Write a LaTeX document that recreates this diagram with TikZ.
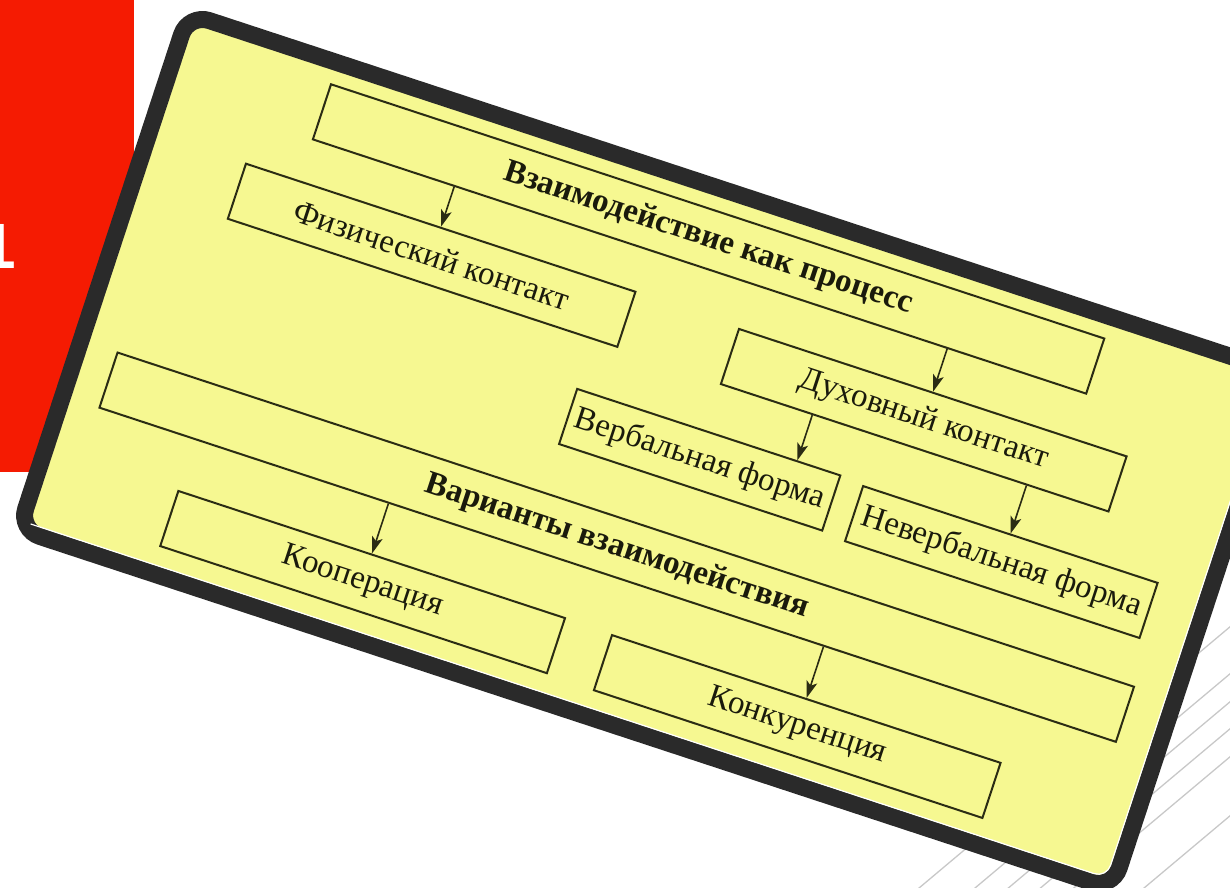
\documentclass[tikz,border=0pt]{standalone}
\usepackage{fontspec}
\setmainfont{Liberation Serif}
\newfontfamily\slidesans{Liberation Sans}
\usetikzlibrary{arrows.meta,calc}
\definecolor{panelyellow}{HTML}{F6F891}
\definecolor{paneldark}{HTML}{2A2A2A}
\definecolor{slidered}{HTML}{F51B02}
\definecolor{boxline}{HTML}{2B2C14}
\definecolor{boxtext}{HTML}{1A1A0C}
\definecolor{hatch}{HTML}{C8C8C8}
\begin{document}
\begin{tikzpicture}[x=1pt,y=1pt,
  diabox/.style={draw=boxline, line width=2pt, minimum height=58pt, inner sep=0pt,
    transform shape, text=boxtext, font=\fontsize{33}{36}\selectfont},
  titlebox/.style={diabox, font=\fontsize{33}{36}\selectfont\bfseries},
  arr/.style={draw=boxline, line width=1.6pt, -{Stealth[length=17pt,width=11pt,inset=4pt]}},
  hatchline/.style={draw=hatch, line width=1.3pt},
]
\useasboundingbox (0,0) rectangle (1230,-887);
\clip (0,0) rectangle (1230,-887);
% background hatch lines (bottom right)
\foreach \c in {1660,1707,1735,1762,1790,1849} {
  \pgfmathsetmacro{\xa}{(\c-900)/0.84}
  \pgfmathsetmacro{\yb}{\c-1041.6}
  \draw[hatchline] (\xa,-900) -- (1240,-\yb);
}
% red side bar
\fill[slidered] (0,0) rectangle (134,-472);
\node[anchor=base west, inner sep=0pt, text=white,
  font=\slidesans\bfseries\fontsize{64}{64}\selectfont] (num) at (-19.5,-268) {1};
% rotated panel
\begin{scope}[shift={(183,-3)}, rotate=-18.2]
  \filldraw[fill=panelyellow, draw=paneldark, line width=17pt, rounded corners=22pt]
    (8.5,-8.5) rectangle (1159.5,-551.5);
  \draw[white, line width=1.2pt, rounded corners=13pt]
    (18,-542.5) -- (1150.5,-542.5) -- (1150.5,-18);
  \node[titlebox, minimum width=814pt] (A) at (573,-60) {Взаимодействие как процесс};
  \node[diabox, minimum width=410pt] (B) at (315,-162) {Физический контакт};
  \node[diabox, minimum width=408pt] (C) at (834,-165) {Духовный контакт};
  \node[diabox, minimum width=277pt] (D) at (633.5,-272.5) {Вербальная форма};
  \node[diabox, minimum width=310pt] (E) at (952,-275.5) {Невербальная форма};
  \node[titlebox, minimum width=1070pt] (F) at (582,-381.5) {Варианты взаимодействия};
  \node[diabox, minimum width=407pt] (G) at (351.5,-494) {Кооперация};
  \node[diabox, minimum width=409pt] (H) at (809.5,-495.5) {Конкуренция};
  \draw[arr] ($(A.south west)!(B.north)!(A.south east)$) -- (B.north);
  \draw[arr] ($(A.south west)!(C.north)!(A.south east)$) -- (C.north);
  \coordinate (cd) at ($(C.south west)!0.238!(C.south east)$);
  \draw[arr] (cd) -- ($(D.north west)!(cd)!(D.north east)$);
  \draw[arr] ($(C.south west)!(E.north)!(C.south east)$) -- (E.north);
  \draw[arr] ($(F.south west)!(G.north)!(F.south east)$) -- (G.north);
  \draw[arr] ($(F.south west)!(H.north)!(F.south east)$) -- (H.north);
\end{scope}
\end{tikzpicture}
\end{document}
